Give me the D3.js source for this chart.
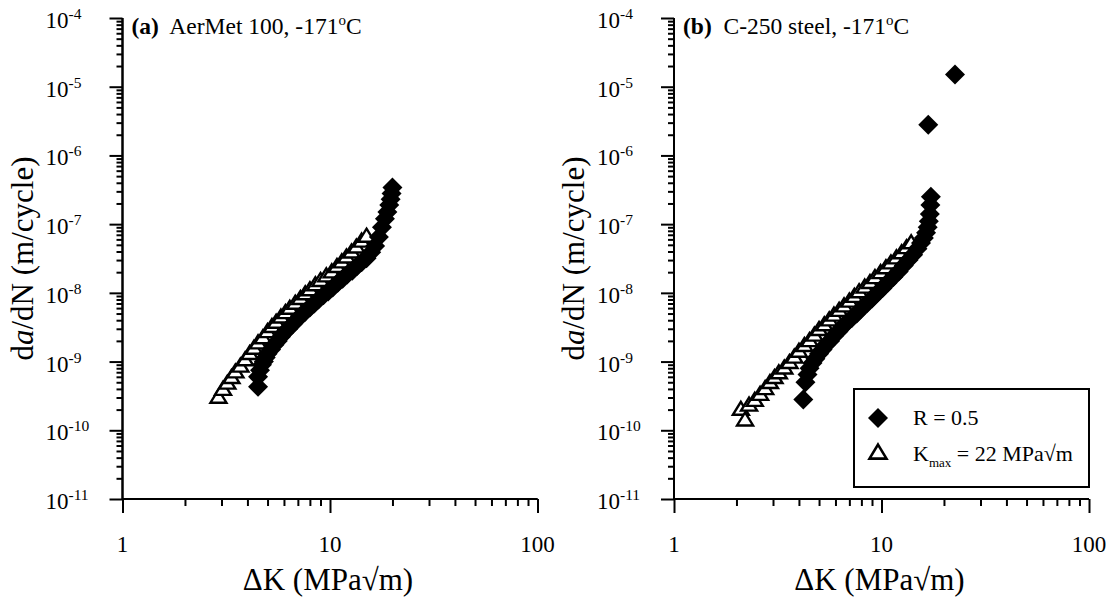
<!DOCTYPE html>
<html><head><meta charset="utf-8">
<script src="https://cdn.jsdelivr.net/npm/d3@7"></script>
<style>
body{margin:0;background:#fff}
text{font-family:"Liberation Serif","Times New Roman",serif;fill:#000}
</style></head><body>
<svg id="c" width="1116" height="604"></svg>
<script>
// ---------- data ----------
const xMajorTicks = [1, 10, 100];
const xTickLabels = ["1", "10", "100"];
const yExponents = [-11, -10, -9, -8, -7, -6, -5, -4];
const panelTags = ["(a)", "(b)"];
const panelTitles = ["AerMet 100, -171", "C-250 steel, -171"];
const legendR = "R = 0.5";
const legendK = ["K", "max", " = 22 MPa\u221Am"];

// Panel (a) AerMet 100 : R = 0.5 (diamonds)
const aDiaK = [4.5,4.5,4.6,4.7,4.8,4.9,5.0,5.2,5.4,5.6,5.8,6.0,6.3,6.6,6.9,7.2,7.6,8.0,8.4,8.8,9.3,9.8,10.3,10.9,11.5,12.1,12.8,13.5,14.2,15.0,15.8,16.5,17.2,17.8,18.4,18.9,19.3,19.6,19.8,20.0];
const aDiaV = [4.3e-10,6e-10,7.5e-10,9e-10,1.0e-9,1.15e-9,1.3e-9,1.5e-9,1.75e-9,2.0e-9,2.3e-9,2.6e-9,3.0e-9,3.5e-9,4.0e-9,4.6e-9,5.3e-9,6.1e-9,7.0e-9,8.0e-9,9.2e-9,1.05e-8,1.2e-8,1.4e-8,1.6e-8,1.85e-8,2.1e-8,2.45e-8,2.8e-8,3.2e-8,3.9e-8,4.8e-8,6.5e-8,9.0e-8,1.2e-7,1.5e-7,1.9e-7,2.3e-7,2.8e-7,3.4e-7];
// Panel (a) : Kmax = 22 (triangles)
const aTriK = [2.9,3.05,3.2,3.35,3.5,3.7,3.9,4.1,4.3,4.5,4.75,5.0,5.25,5.5,5.8,6.1,6.4,6.8,7.2,7.6,8.0,8.5,9.0,9.6,10.2,10.8,11.4,12.0,12.7,13.4,14.2,15.0];
const aTriV = [3.0e-10,3.9e-10,4.8e-10,5.8e-10,7.0e-10,8.5e-10,1.05e-9,1.3e-9,1.55e-9,1.85e-9,2.2e-9,2.7e-9,3.2e-9,3.7e-9,4.4e-9,5.1e-9,5.9e-9,7.0e-9,8.2e-9,9.6e-9,1.1e-8,1.3e-8,1.5e-8,1.75e-8,2.0e-8,2.4e-8,2.8e-8,3.3e-8,3.9e-8,4.6e-8,5.6e-8,6.6e-8];

// Panel (b) C-250 steel : R = 0.5 (diamonds)
const bDiaK = [4.2,4.3,4.4,4.5,4.65,4.8,5.0,5.2,5.4,5.65,5.9,6.2,6.5,6.8,7.2,7.6,8.0,8.5,9.0,9.5,10.1,10.7,11.4,12.1,12.8,13.5,14.2,14.9,15.5,16.0,16.4,16.7,16.9,17.1,17.2,17.3,16.8,22.6];
const bDiaV = [2.8e-10,5.0e-10,6.5e-10,8.0e-10,9.5e-10,1.1e-9,1.3e-9,1.5e-9,1.75e-9,2.0e-9,2.35e-9,2.75e-9,3.2e-9,3.7e-9,4.3e-9,5.0e-9,5.9e-9,7.0e-9,8.3e-9,9.8e-9,1.17e-8,1.4e-8,1.7e-8,2.05e-8,2.5e-8,3.0e-8,3.6e-8,4.4e-8,5.3e-8,6.3e-8,7.5e-8,9.0e-8,1.1e-7,1.4e-7,1.9e-7,2.5e-7,2.8e-6,1.5e-5];
// Panel (b) : Kmax = 22 (triangles)
const bTriK = [2.1,2.2,2.3,2.45,2.6,2.75,2.9,3.05,3.2,3.4,3.6,3.8,4.0,4.25,4.5,4.75,5.0,5.3,5.6,5.9,6.25,6.6,7.0,7.4,7.8,8.3,8.8,9.3,9.9,10.5,11.1,11.8,12.5,13.2,13.9];
const bTriV = [2.0e-10,1.4e-10,2.3e-10,2.7e-10,3.3e-10,4.0e-10,4.9e-10,5.8e-10,6.8e-10,8.0e-10,9.6e-10,1.15e-9,1.4e-9,1.7e-9,2.0e-9,2.4e-9,2.9e-9,3.4e-9,4.0e-9,4.7e-9,5.5e-9,6.4e-9,7.5e-9,8.8e-9,1.03e-8,1.2e-8,1.4e-8,1.65e-8,1.95e-8,2.3e-8,2.7e-8,3.2e-8,3.8e-8,4.5e-8,5.3e-8];

// ---------- drawing ----------
const svg = d3.select("#c");
const panels = [
  {x0: 122.5, dia: [aDiaK, aDiaV], tri: [aTriK, aTriV], legend: false},
  {x0: 674, dia: [bDiaK, bDiaV], tri: [bTriK, bTriV], legend: true}
];
const yTop = 18, yBot = 499, plotW = 415;

const diamond = s => `M0,${-s}L${s},0L0,${s}L${-s},0Z`;
const triangle = (w, h) => `M0,${-h*0.6}L${w},${h*0.4}L${-w},${h*0.4}Z`;

panels.forEach((p, i) => {
  const x = d3.scaleLog().domain([1, 100]).range([p.x0, p.x0 + plotW]);
  const y = d3.scaleLog().domain([1e-11, 1e-4]).range([yBot, yTop]);
  const g = svg.append("g");

  const xMinor = [], yMinor = [];
  [1, 10].forEach(d => { for (let m = 2; m <= 9; m++) xMinor.push(d * m); });
  yExponents.slice(0, -1).forEach(e => { for (let m = 2; m <= 9; m++) yMinor.push(m * Math.pow(10, e)); });

  const xAxisMinor = d3.axisBottom(x).tickValues(xMinor).tickSize(7).tickFormat("");
  const xAxisMajor = d3.axisBottom(x).tickValues(xMajorTicks).tickSize(14).tickFormat("");
  const yAxisMinor = d3.axisLeft(y).tickValues(yMinor).tickSize(6).tickFormat("");
  const yAxisMajor = d3.axisLeft(y).tickValues(yExponents.map(e => Math.pow(10, e))).tickSize(13).tickFormat("");

  [xAxisMinor, xAxisMajor].forEach(ax => {
    g.append("g").attr("transform", `translate(0,${yBot})`).call(ax)
      .call(s => s.selectAll("line,path").attr("stroke", "#000").attr("stroke-width", 2))
      .call(s => s.select(".domain").attr("d", `M${p.x0},0H${p.x0 + plotW}`));
  });
  [yAxisMinor, yAxisMajor].forEach(ax => {
    g.append("g").attr("transform", `translate(${p.x0},0)`).call(ax)
      .call(s => s.selectAll("line,path").attr("stroke", "#000").attr("stroke-width", 2))
      .call(s => s.select(".domain").attr("d", `M0,${yTop}V${yBot}`));
  });

  xMajorTicks.forEach((t, k) => {
    g.append("text").attr("x", x(t)).attr("y", 552).attr("text-anchor", "middle")
      .attr("font-size", 23).text(xTickLabels[k]);
  });
  yExponents.forEach(e => {
    const t = g.append("text").attr("x", p.x0 - 77).attr("y", y(Math.pow(10, e)) + 10)
      .attr("font-size", 23);
    t.append("tspan").text("10");
    t.append("tspan").attr("font-size", 15.5).attr("dy", -9).text(String(e));
  });

  g.append("text").attr("x", p.x0 + plotW / 2 - 2).attr("y", 590)
    .attr("text-anchor", "middle").attr("font-size", 31).text("\u0394K (MPa\u221Am)");

  const yt = g.append("text").attr("transform", `translate(${p.x0 - 90},${(yTop + yBot) / 2}) rotate(-90)`)
    .attr("text-anchor", "middle").attr("font-size", 31);
  yt.append("tspan").text("d");
  yt.append("tspan").attr("font-style", "italic").text("a");
  yt.append("tspan").text("/dN (m/cycle)");

  const tt = g.append("text").attr("x", p.x0 + 9).attr("y", 34).attr("font-size", 23.5);
  tt.append("tspan").attr("font-weight", "bold").text(panelTags[i]);
  tt.append("tspan").text("\u00A0 " + panelTitles[i]);
  tt.append("tspan").attr("font-size", 15).attr("dy", -9).text("o");
  tt.append("tspan").attr("dy", 9).text("C");

  const triData = p.tri[0].map((k, j) => [k, p.tri[1][j]]);
  const diaData = p.dia[0].map((k, j) => [k, p.dia[1][j]]);
  g.append("g").selectAll("path").data(triData).join("path")
    .attr("d", triangle(8, 13)).attr("transform", d => `translate(${x(d[0])},${y(d[1])})`)
    .attr("fill", "#fff").attr("stroke", "#000").attr("stroke-width", 2.4);
  g.append("g").selectAll("path").data(diaData).join("path")
    .attr("d", diamond(10)).attr("transform", d => `translate(${x(d[0])},${y(d[1])})`)
    .attr("fill", "#000");

  if (p.legend) {
    const lg = g.append("g");
    lg.append("rect").attr("x", 854).attr("y", 389).attr("width", 235).attr("height", 98)
      .attr("fill", "#fff").attr("stroke", "#000").attr("stroke-width", 2);
    lg.append("path").attr("d", diamond(10)).attr("transform", "translate(878,418)").attr("fill", "#000");
    lg.append("path").attr("d", triangle(8.5, 14)).attr("transform", "translate(878,453)")
      .attr("fill", "#fff").attr("stroke", "#000").attr("stroke-width", 2.6);
    lg.append("text").attr("x", 913).attr("y", 425).attr("font-size", 22).text(legendR);
    const lk = lg.append("text").attr("x", 913).attr("y", 461).attr("font-size", 22);
    lk.append("tspan").text(legendK[0]);
    lk.append("tspan").attr("font-size", 13).attr("dy", 6).text(legendK[1]);
    lk.append("tspan").attr("dy", -6).text(legendK[2]);
  }
});
</script></body></html>
